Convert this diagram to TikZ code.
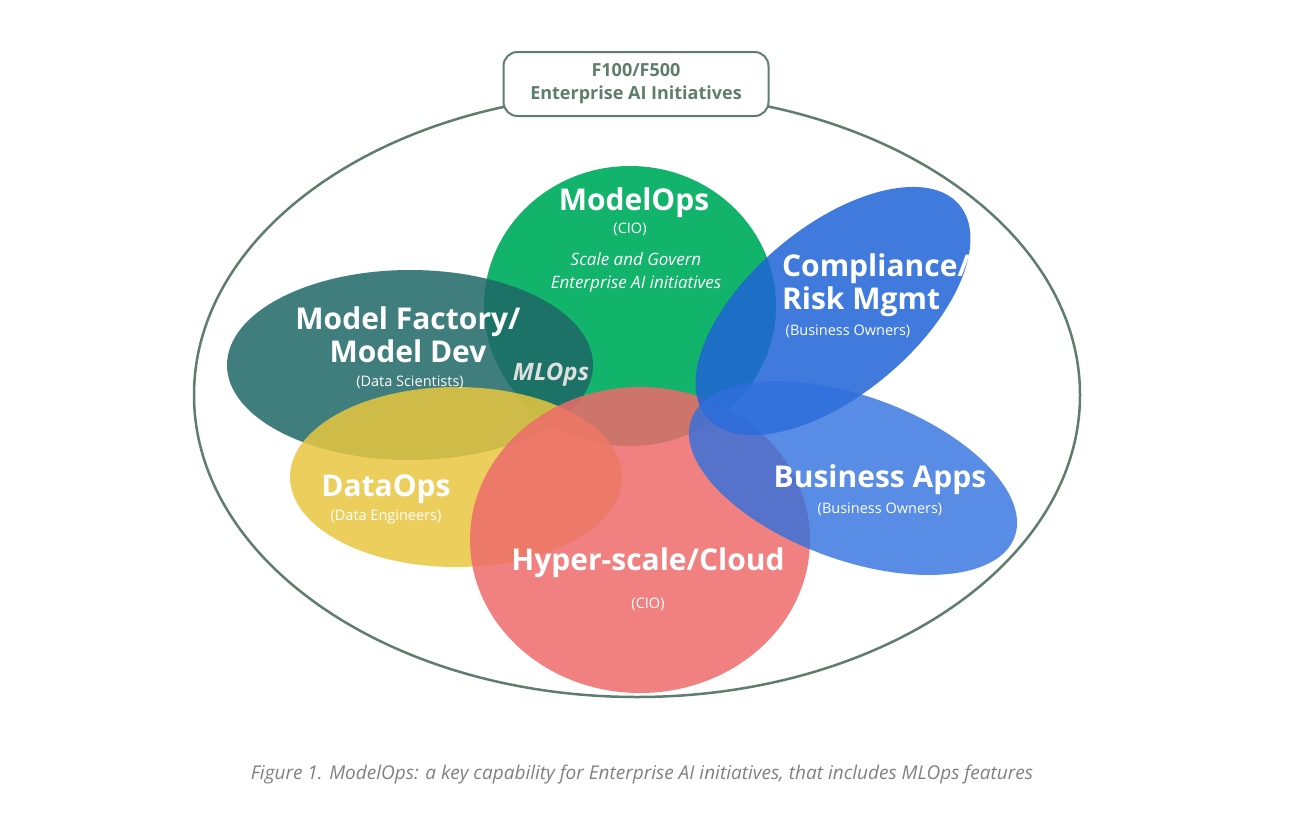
\documentclass[tikz,border=0pt]{standalone}
\usepackage{fontspec}
\setmainfont{Open Sans}
\begin{document}
\begin{tikzpicture}[x=1pt,y=-1pt,
 blob/.style={fill opacity=0.85,draw=none},
 big/.style={text=white,font=\bfseries\fontsize{30}{33}\selectfont,align=center},
 small/.style={text=white,font=\fontsize{14.5}{17}\selectfont,align=center}]
\definecolor{frame}{HTML}{5F7D6C}
\definecolor{gr}{HTML}{12B36A}
\definecolor{te}{HTML}{1E6766}
\definecolor{ye}{HTML}{E8C640}
\definecolor{re}{HTML}{EE6B6B}
\definecolor{bl}{HTML}{1F63D6}
\definecolor{bl2}{HTML}{2F6FDD}
\useasboundingbox (0,0) rectangle (1312,817);
\draw[frame,line width=2.5pt] (637,395) ellipse [x radius=443,y radius=302];
\node[draw=frame,line width=2pt,fill=white,rounded corners=14pt,minimum width=265pt,minimum height=64pt,align=center,text=frame,font=\bfseries\fontsize{18}{23}\selectfont] (lab) at (636,84) {F100/F500\\Enterprise AI Initiatives};
\fill[gr] (630,306) ellipse [x radius=146,y radius=140];
\fill[te,blob] (410,365) ellipse [x radius=183,y radius=95];
\fill[ye,blob] (456,477) ellipse [x radius=166,y radius=90];
\fill[re,blob] (640,540) ellipse [x radius=170,y radius=153];
\fill[bl,blob,rotate around={40:(833,311)}] (833,311) ellipse [x radius=165,y radius=84];
\fill[bl2,blob,fill opacity=0.8,rotate around={-20:(853,478)}] (853,478) ellipse [x radius=172,y radius=82];
\node[big] (mo) at (634,203) {ModelOps};
\node[small] (mocio) at (630,229) {(CIO)};
\node[small,font=\itshape\fontsize{17}{23}\selectfont] (mot) at (636,273) {Scale and Govern\\Enterprise AI initiatives};
\node[big,align=left] (cr) at (876,285) {Compliance/\\Risk Mgmt};
\node[small] (cro) at (848,331) {(Business Owners)};
\node[big] (mf) at (408,335) {Model Factory/\\Model Dev};
\node[small] (mfo) at (410,382) {(Data Scientists)};
\node[text=gray!25,font=\bfseries\itshape\fontsize{24}{26}\selectfont] (ml) at (551,375) {MLOps};
\node[big] (do) at (386,489) {DataOps};
\node[small] (doo) at (386,517) {(Data Engineers)};
\node[big] (ba) at (880,480) {Business Apps};
\node[small] (bao) at (880,509) {(Business Owners)};
\node[big] (hc) at (648,563) {Hyper-scale/Cloud};
\node[small] (hco) at (648,604) {(CIO)};
\node[text=gray,font=\itshape\fontsize{19}{21}\selectfont] (cap) at (642,775) {Figure 1. ModelOps: a key capability for Enterprise AI initiatives, that includes MLOps features};
\end{tikzpicture}
\end{document}
